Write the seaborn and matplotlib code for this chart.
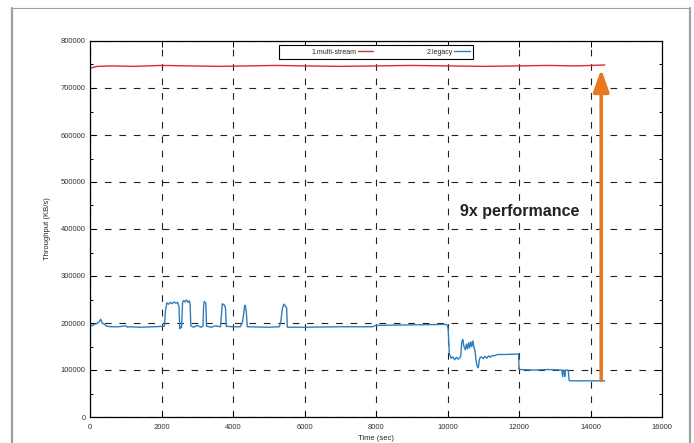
import numpy as np
import pandas as pd
import matplotlib
matplotlib.use("Agg")
import matplotlib.pyplot as plt
from matplotlib.lines import Line2D
from matplotlib.patches import Rectangle
from matplotlib.ticker import MultipleLocator
import seaborn as sns

# --- Data ---
series_names = ["1.multi-stream", "2.legacy"]

multi_time = [0, 200, 600, 1200, 2000, 2800, 3600, 4400, 5200, 6000, 7000,
              8000, 9000, 10000, 11000, 12000, 12800, 13600, 14000, 14400]
multi_kbs = [742000, 746000, 747000, 746000, 748000, 747000, 746000, 747000, 748000, 747000, 746000,
             747000, 748000, 747000, 746000, 747000, 748000, 747000, 748000, 749000]

legacy_time = [0, 60, 120, 200, 260, 300, 340, 400, 480, 600, 800, 1000, 1050, 1100, 1400, 1800, 2080,
               2110, 2150, 2200, 2250, 2300, 2350, 2400, 2450, 2490, 2510, 2530, 2560,
               2590, 2620, 2660, 2700, 2740, 2780, 2800, 2820, 2900, 3000, 3100, 3160,
               3180, 3200, 3240, 3260, 3400, 3500, 3650, 3680, 3700, 3760, 3790, 3810,
               4000, 4200, 4260, 4290, 4330, 4350, 4370, 4400, 5000, 5300, 5340, 5380, 5420, 5460, 5500, 5520,
               6000, 7000, 7900, 8000, 9000, 9950, 10000, 10020, 10050, 10100, 10150, 10200, 10250, 10300, 10340,
               10370, 10400, 10430, 10460, 10500, 10530, 10560, 10590, 10620, 10650, 10680, 10710, 10740, 10770,
               10800, 10830, 10860, 10900, 10950, 11000, 11050, 11100, 11150, 11200, 11250, 11300, 11400, 11600, 11990,
               12000, 12010, 12400, 12800, 13200, 13220, 13240, 13260, 13280, 13300, 13380, 13400, 13420, 14400]
legacy_kbs = [196000, 194000, 197000, 199000, 203000, 208000, 200000, 197000, 193000, 192000, 192000, 194000, 191000, 192000, 191000, 192000, 193000,
              225000, 243000, 240000, 244000, 241000, 245000, 242000, 244000, 235000, 188000, 192000, 190000,
              244000, 248000, 245000, 249000, 244000, 247000, 240000, 194000, 191000, 195000, 191000, 193000,
              240000, 246000, 242000, 193000, 191000, 194000, 192000, 220000, 241000, 238000, 232000, 193000,
              192000, 192000, 200000, 215000, 238000, 235000, 225000, 192000, 191000, 192000, 205000, 230000, 240000, 237000, 232000, 191000,
              191000, 192000, 192000, 195000, 196000, 197000, 195000, 185000, 135000, 125000, 128000, 122000, 127000, 123000, 126000,
              130000, 160000, 165000, 150000, 143000, 155000, 145000, 158000, 147000, 160000, 150000, 162000, 148000, 140000,
              120000, 108000, 105000, 125000, 128000, 124000, 129000, 125000, 130000, 127000, 131000, 130000, 133000, 133000, 134000,
              101000, 101000, 100000, 101000, 100000, 86000, 100000, 99000, 86000, 100000, 99000, 78000, 77000, 77000]

arrow_time = 14300
arrow_from = 78000
arrow_to = 740000
note_text = "9x performance"

x_ticks = list(range(0, 16001, 2000))
y_ticks = list(range(0, 800001, 100000))

df = pd.concat([
    pd.DataFrame({"time": multi_time, "kbs": multi_kbs, "series": series_names[0]}),
    pd.DataFrame({"time": legacy_time, "kbs": legacy_kbs, "series": series_names[1]}),
])

# --- Plot ---
sns.set_style("ticks")
plt.rcParams["font.family"] = ["Liberation Sans", "DejaVu Sans"]

W, H = 694, 443
fig = plt.figure(figsize=(W / 100, H / 100), dpi=100)
ax = fig.add_axes([90 / W, 1 - 417 / H, 572 / W, 376 / H])

palette = {series_names[0]: "#E0282E", series_names[1]: "#2F7DBD"}
sns.lineplot(data=df, x="time", y="kbs", hue="series", palette=palette,
             estimator=None, sort=False, linewidth=1.0, ax=ax)

ax.set_xlim(0, 16000)
ax.set_ylim(0, 800000)
ax.set_xticks(x_ticks)
ax.set_yticks(y_ticks)
ax.yaxis.set_minor_locator(MultipleLocator(50000))
ax.tick_params(which="both", direction="in", top=True, right=True,
               labelsize=5.5, labelcolor="#333333", width=0.7, color="black")
ax.tick_params(which="major", length=4, pad=3)
ax.tick_params(axis="x", which="major", pad=5)
ax.tick_params(which="minor", length=2)
for s in ax.spines.values():
    s.set_linewidth(0.9)
    s.set_color("black")

ax.grid(True, which="major", color="#222222", linewidth=0.8, linestyle=(0, (6, 7)))
ax.set_axisbelow(True)

ax.set_xlabel("Time (sec)", fontsize=5.5, labelpad=3)
ax.set_ylabel("Throughput (KB/s)", fontsize=5.5, labelpad=7)

ax.annotate("", xy=(arrow_time, arrow_to), xytext=(arrow_time, arrow_from),
            arrowprops=dict(arrowstyle="-|>,head_length=0.45,head_width=0.16",
                            mutation_scale=30, lw=2.6, color="#E87722",
                            shrinkA=0, shrinkB=0))
ax.text(12030, 438000, note_text, fontsize=11.5, fontweight="bold",
        color="#222222", ha="center", va="center",
        bbox=dict(facecolor="white", edgecolor="none", pad=1))

# gnuplot-style key: white box, label then sample
ax.add_patch(Rectangle((279 / W, 1 - 59 / H), 194 / W, 14 / H, transform=fig.transFigure,
                       facecolor="white", edgecolor="black", lw=0.8, zorder=5, clip_on=False))
handles, labels = ax.get_legend_handles_labels()
leg = ax.legend(handles, labels, ncol=2, loc="center left",
                bbox_to_anchor=(311 / W, 1 - 52 / H), bbox_transform=fig.transFigure,
                markerfirst=False, fontsize=5.0, handlelength=2.2, handletextpad=0.3,
                columnspacing=7.6, frameon=False, borderpad=0, borderaxespad=0)
leg.set_zorder(6)

# grey page frame around the figure
fig.add_artist(Line2D([12 / W, 12 / W], [0, 1 - 8 / H], color="#A0A0A0", lw=1.6))
fig.add_artist(Line2D([690 / W, 690 / W], [0, 1 - 8 / H], color="#A0A0A0", lw=1.6))
fig.add_artist(Line2D([12 / W, 690 / W], [1 - 8 / H, 1 - 8 / H], color="#A0A0A0", lw=0.8))

fig.savefig("out.png", dpi=100)
